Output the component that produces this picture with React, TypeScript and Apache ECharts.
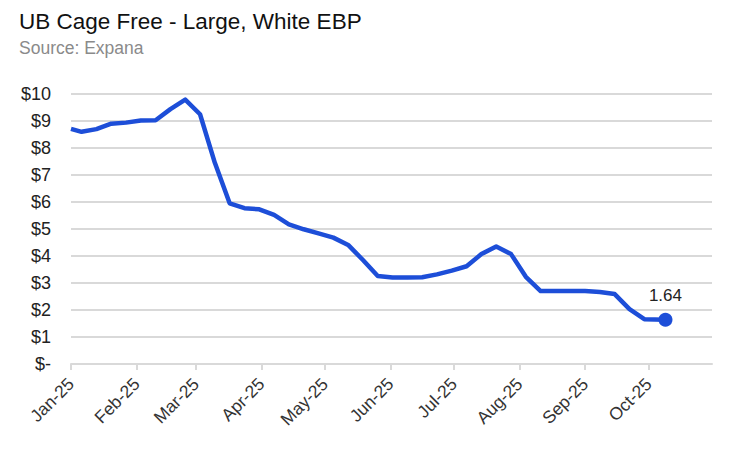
import React, { useEffect, useRef } from "react";
import * as echarts from "echarts";

const TITLE = "UB Cage Free - Large, White EBP";
const SUBTITLE = "Source: Expana";

const dates = [
  "2025-01-01", "2025-01-06", "2025-01-13", "2025-01-20", "2025-01-27",
  "2025-02-03", "2025-02-10", "2025-02-17", "2025-02-24",
  "2025-03-03", "2025-03-10", "2025-03-17", "2025-03-24", "2025-03-31",
  "2025-04-07", "2025-04-14", "2025-04-21", "2025-04-28",
  "2025-05-05", "2025-05-12", "2025-05-19", "2025-05-26",
  "2025-06-02", "2025-06-09", "2025-06-16", "2025-06-23", "2025-06-30",
  "2025-07-07", "2025-07-14", "2025-07-21", "2025-07-28",
  "2025-08-04", "2025-08-11", "2025-08-18", "2025-08-25",
  "2025-09-01", "2025-09-08", "2025-09-15", "2025-09-22", "2025-09-29",
  "2025-10-09",
];

const prices = [
  8.71, 8.6, 8.7, 8.9, 8.94,
  9.02, 9.03, 9.44, 9.79,
  9.25, 7.45, 5.95, 5.77, 5.73,
  5.52, 5.17, 4.99, 4.84,
  4.68, 4.41, 3.85, 3.26,
  3.2, 3.2, 3.21, 3.32, 3.46,
  3.62, 4.07, 4.35, 4.07,
  3.23, 2.7, 2.7, 2.7,
  2.7, 2.67, 2.59, 2.03, 1.66,
  1.64,
];

const tickDates = [
  "2025-01-01", "2025-02-01", "2025-03-01", "2025-04-01", "2025-05-01",
  "2025-06-01", "2025-07-01", "2025-08-01", "2025-09-01", "2025-10-01",
];
const tickLabels = [
  "Jan-25", "Feb-25", "Mar-25", "Apr-25", "May-25",
  "Jun-25", "Jul-25", "Aug-25", "Sep-25", "Oct-25",
];

const axisStart = "2025-01-01";
const axisEnd = "2025-10-31";

const yMin = 0;
const yMax = 10;
const yStep = 1;

function toTime(s: string): number {
  const [y, m, d] = s.split("-").map(Number);
  return Date.UTC(y, m - 1, d);
}

const FONT = "'Liberation Sans', Arial, sans-serif";
const LINE_COLOR = "#1d4ed8";
const GRID_COLOR = "#d9d9d9";

export default function App() {
  const ref = useRef<HTMLDivElement>(null);

  useEffect(() => {
    if (!ref.current) return;
    const chart = echarts.init(ref.current, null, { renderer: "svg" });
    const tickTimes = tickDates.map(toTime);
    const lastIdx = prices.length - 1;
    const seriesData = dates.map((d, i) => {
      if (i === lastIdx) {
        return {
          value: [toTime(d), prices[i]],
          symbol: "circle",
          symbolSize: 14,
          label: {
            show: true,
            position: "top",
            distance: 9,
            formatter: (p: any) => Number(p.value[1]).toFixed(2),
            fontSize: 17,
            color: "#222",
            fontFamily: FONT,
          },
        };
      }
      return { value: [toTime(d), prices[i]] };
    });

    chart.setOption({
      animation: false,
      backgroundColor: "#ffffff",
      textStyle: { fontFamily: FONT },
      title: {
        text: TITLE,
        subtext: SUBTITLE,
        left: 14,
        top: 5,
        itemGap: 6,
        textStyle: {
          fontSize: 22.5,
          fontWeight: "normal",
          color: "#111",
          fontFamily: FONT,
        },
        subtextStyle: {
          fontSize: 17.5,
          color: "#8a8a8a",
          fontFamily: FONT,
        },
      },
      grid: { left: 71, right: 38, top: 94, bottom: 87 },
      xAxis: {
        type: "value",
        min: toTime(axisStart),
        max: toTime(axisEnd),
        axisLine: { show: true, lineStyle: { color: GRID_COLOR, width: 2 } },
        axisTick: {
          show: true,
          customValues: tickTimes,
          length: 6,
          lineStyle: { color: GRID_COLOR, width: 2 },
        },
        splitLine: { show: false },
        axisLabel: {
          customValues: tickTimes,
          rotate: 45,
          margin: 17,
          fontSize: 17.5,
          color: "#333",
          fontFamily: FONT,
          formatter: (v: number) => {
            const idx = tickTimes.indexOf(v);
            return idx >= 0 ? tickLabels[idx] : "";
          },
        },
      },
      yAxis: {
        type: "value",
        min: yMin,
        max: yMax,
        interval: yStep,
        axisLine: { show: false },
        axisTick: { show: false },
        splitLine: { lineStyle: { color: GRID_COLOR, width: 2 } },
        axisLabel: {
          margin: 20,
          fontSize: 18,
          color: "#222",
          fontFamily: FONT,
          formatter: (v: number) => (v === 0 ? "$-" : "$" + v),
        },
      },
      series: [
        {
          type: "line",
          data: seriesData,
          symbol: "none",
          showSymbol: true,
          itemStyle: { color: LINE_COLOR },
          lineStyle: { color: LINE_COLOR, width: 4.5, join: "round" },
          emphasis: { disabled: true },
        },
      ],
    });

    return () => chart.dispose();
  }, []);

  return (
    <div
      ref={ref}
      style={{ position: "fixed", left: 0, top: 0, width: 750, height: 451 }}
    />
  );
}
